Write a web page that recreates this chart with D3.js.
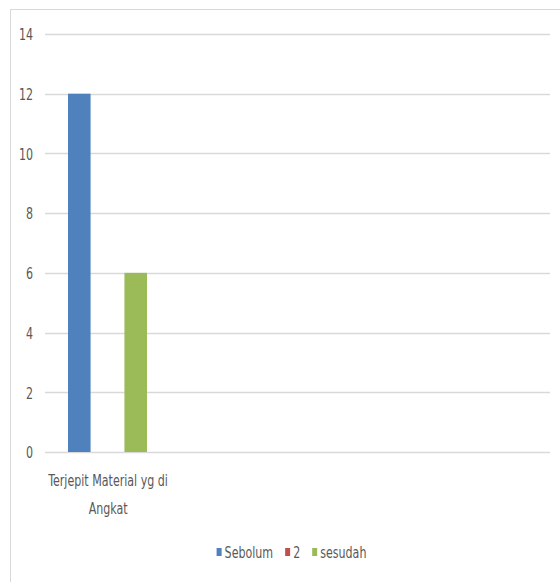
<!DOCTYPE html>
<html>
<head>
<meta charset="utf-8">
<script src="https://cdn.jsdelivr.net/npm/d3@7"></script>
<style>
  html, body { margin: 0; padding: 0; background: #fff; }
  svg { display: block; }
  text { font-family: "DejaVu Sans Condensed", "Liberation Sans", sans-serif; fill: #595959; }
</style>
</head>
<body>
<svg id="chart" width="560" height="582"></svg>
<script>
// Chart data
const categories = ["Terjepit Material yg di Angkat", "", "", ""];
const seriesNames = ["Sebolum", "2", "sesudah"];
const seriesColors = ["#4F81BD", "#C0504D", "#9BBB59"];
const sebolumValues = [12, null, null, null];
const seriesTwoValues = [0, null, null, null];
const sesudahValues = [6, null, null, null];
const yTicks = [0, 2, 4, 6, 8, 10, 12, 14];

const seriesValues = [sebolumValues, seriesTwoValues, sesudahValues];

const svg = d3.select("#chart");
const W = 560, H = 582;
const FONT = 16;      // label font size
const SX = 0.77;      // horizontal squeeze for the narrow label face

// Chart area frame
svg.append("rect")
  .attr("x", 10.5).attr("y", 9.5)
  .attr("width", W).attr("height", H)
  .attr("fill", "#fff")
  .attr("stroke", "#d9d9d9")
  .attr("stroke-width", 1);

const plot = { left: 45, right: 550, top: 34, bottom: 452 };

const y = d3.scaleLinear().domain([0, 14]).range([plot.bottom, plot.top]);
const x0 = d3.scaleBand().domain(d3.range(categories.length)).range([plot.left, plot.right]).padding(0);
const x1 = d3.scaleBand().domain(seriesNames)
  .range([23, 102]).paddingInner(0.2).paddingOuter(0);

// Gridlines
svg.append("g")
  .selectAll("line")
  .data(yTicks)
  .join("line")
  .attr("x1", plot.left).attr("x2", plot.right)
  .attr("y1", d => Math.round(y(d)) + 0.5)
  .attr("y2", d => Math.round(y(d)) + 0.5)
  .attr("stroke", "#d9d9d9")
  .attr("stroke-width", 1.5);

// Y axis labels
const yAxis = d3.axisLeft(y).tickValues(yTicks).tickSize(0).tickPadding(0);
const yg = svg.append("g").attr("transform", `translate(${plot.left - 12},0)`).call(yAxis);
yg.select(".domain").remove();
yg.selectAll("text")
  .attr("font-size", FONT)
  .attr("font-family", null)
  .attr("fill", "#595959")
  .attr("x", 0)
  .attr("dy", "0.36em")
  .attr("transform", `scale(${SX},1)`);

// Bars
const barData = [];
categories.forEach((c, ci) => {
  seriesNames.forEach((s, si) => {
    const v = seriesValues[si][ci];
    if (v != null) barData.push({ ci, s, v, color: seriesColors[si] });
  });
});

svg.append("g")
  .selectAll("rect")
  .data(barData)
  .join("rect")
  .attr("x", d => x0(d.ci) + x1(d.s))
  .attr("width", x1.bandwidth())
  .attr("y", d => y(d.v))
  .attr("height", d => y(0) - y(d.v))
  .attr("fill", d => d.color);

// Category labels (wrapped to band width)
function wrapLabel(textSel, width) {
  textSel.each(function () {
    const t = d3.select(this);
    const words = t.text().split(/\s+/).filter(w => w);
    t.text(null);
    const lines = [];
    let line = [];
    const probe = t.append("tspan");
    words.forEach(w => {
      line.push(w);
      probe.text(line.join(" "));
      if (probe.node().getComputedTextLength() * SX > width && line.length > 1) {
        line.pop();
        lines.push(line.join(" "));
        line = [w];
      }
    });
    if (line.length) lines.push(line.join(" "));
    probe.remove();
    lines.forEach((l, i) => {
      t.append("tspan").attr("x", 0).attr("dy", i === 0 ? 0 : 28).text(l);
    });
  });
}

svg.append("g")
  .selectAll("text")
  .data(categories.map((c, i) => ({ c, i })).filter(d => d.c))
  .join("text")
  .attr("x", 0)
  .attr("y", 0)
  .attr("transform", d => `translate(${x0(d.i) + x0.bandwidth() / 2},486) scale(${SX},1)`)
  .attr("text-anchor", "middle")
  .attr("font-size", FONT)
  .text(d => d.c)
  .call(wrapLabel, x0.bandwidth());

// Legend
const legend = svg.append("g");
let lx = 0;
const GAP = 12;
seriesNames.forEach((s, i) => {
  const g = legend.append("g");
  g.append("rect").attr("x", 0).attr("y", -4).attr("width", 5).attr("height", 8).attr("fill", seriesColors[i]);
  const t = g.append("text")
    .attr("transform", `translate(8,5.5) scale(${SX},1)`)
    .attr("font-size", FONT).text(s);
  const w = 8 + t.node().getComputedTextLength() * SX;
  g.attr("transform", `translate(${lx},0)`);
  lx += w + GAP;
});
const legendW = lx - GAP;
legend.attr("transform", `translate(${291.5 - legendW / 2},552)`);
</script>
</body>
</html>
